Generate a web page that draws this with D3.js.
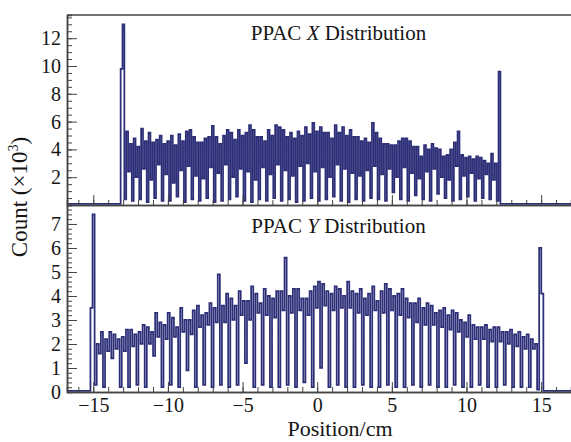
<!DOCTYPE html>
<html><head><meta charset="utf-8">
<script src="https://cdn.jsdelivr.net/npm/d3@7"></script>
<style>
body{margin:0;background:#fff}
svg{display:block}
text{font-family:"Liberation Serif","Times New Roman",serif;fill:#151515}
</style>
</head><body>
<svg id="chart" width="571" height="442"></svg>
<script>
// ---------------- data (counts in units of 10^3) ----------------
const xTickValues = [-15, -10, -5, 0, 5, 10, 15];
const topYTickValues = [2, 4, 6, 8, 10, 12];
const botYTickValues = [0, 1, 2, 3, 4, 5, 6, 7];
const panelNames = ["X", "Y"];

// PPAC X distribution: histogram bins (left edge spike, 50 wire periods of 4 bins, right edge spike)
const xBinStart = -13.167, xBinWidth = 0.1247, xBaseline = 0.08;
const xLeftSpike = [9.8, 13.0, 0.4];
const xPeakA = [5.3,4.8,5.5,5.2,4.7,4.4,5.0,5.1,5.3,4.9,
                4.5,4.9,4.9,5.0,5.2,5.4,5.2,5.4,4.9,5.4,
                5.75,5.4,5.2,5.3,5.6,5.9,5.6,5.2,5.75,5.6,
                5.4,4.9,4.8,5.9,4.8,4.4,4.3,4.8,4.6,4.2,
                4.3,4.4,4.0,3.6,4.5,3.6,3.5,3.5,3.2,3.7];
const xMid   = [2.4,2.0,2.6,1.8,2.9,2.2,1.6,2.5,2.8,2.1,
                1.9,2.7,2.3,2.9,2.0,2.6,2.4,1.8,2.7,2.2,
                2.9,2.5,2.1,2.8,3.0,2.4,2.7,2.0,2.9,2.6,
                2.3,2.1,2.5,2.8,2.2,2.6,2.0,2.7,2.3,1.9,
                2.4,2.6,2.0,1.8,2.8,2.1,2.3,1.9,2.2,1.8];
const xPeakB = [4.4,4.2,4.6,4.5,5.0,4.6,4.3,4.6,5.4,4.5,
                4.8,5.7,4.4,5.4,4.7,5.0,5.75,4.9,4.6,5.0,
                5.6,4.9,4.8,5.0,5.1,5.3,5.2,4.8,5.2,5.0,
                4.9,4.6,4.5,5.2,4.4,4.3,4.6,4.8,4.2,3.5,
                4.0,4.1,3.5,4.0,5.3,3.4,3.3,3.4,3.0,3.0];
const xLow   = [0.3,0.4,0.2,0.5,0.3,0.3,0.6,0.2,0.4,0.3,
                0.5,0.2,0.3,0.4,0.6,0.3,0.2,0.4,0.3,0.5,
                0.3,0.4,0.2,0.3,0.5,0.3,0.4,0.6,0.3,0.2,
                0.4,0.3,0.5,0.4,0.3,0.9,0.4,0.3,0.7,0.4,
                0.3,0.8,0.5,0.3,0.4,0.6,0.3,0.5,0.4,0.3];
const xRightSpike = [9.6];

// PPAC Y distribution: histogram bins (left spike, 53 wire periods of 4 bins, right spike)
const yBinStart = -15.19, yBinWidth = 0.13981, yBaseline = 0.05;
const yLeftSpike = [3.5, 7.4, 0.3];
const yTopA = [2.0,2.2,2.4,2.3,2.6,2.5,2.7,3.3,2.8,3.1,
               3.5,3.0,3.6,3.3,3.5,3.6,3.9,4.2,3.8,4.1,
               4.3,3.9,4.2,4.0,4.3,3.9,4.4,4.5,4.1,4.3,
               4.6,4.1,3.9,4.4,4.2,4.3,4.1,3.9,3.7,3.5,
               3.6,3.4,3.2,3.3,2.9,2.8,2.7,2.6,2.7,2.5,
               2.4,2.3,2.2];
const yBand = [1.6,1.7,1.8,1.7,1.9,2.0,2.0,2.3,2.2,2.3,
               2.5,2.4,2.7,2.8,2.9,2.9,3.0,3.2,3.0,3.3,
               3.2,3.1,3.4,3.3,3.4,3.2,3.5,3.6,3.4,3.5,
               3.5,3.3,3.2,3.4,3.3,3.4,3.2,3.1,2.9,2.8,
               2.8,2.7,2.6,2.5,2.3,2.2,2.2,2.1,2.1,2.0,
               1.9,1.8,1.8];
const yTopB = [2.5,2.5,2.2,2.6,2.4,2.8,2.5,2.9,3.3,2.7,
               3.0,3.4,3.2,3.7,4.9,4.1,3.6,3.8,4.4,3.7,
               4.0,4.2,5.6,4.3,3.9,4.2,4.6,4.2,4.4,4.0,
               4.2,4.3,4.1,3.8,4.5,4.0,4.3,3.7,3.9,3.7,
               3.3,3.5,3.4,3.0,3.2,2.7,2.8,2.7,2.5,2.6,
               2.5,2.4,2.0];
const yLow  = [0.2,1.4,0.2,0.2,0.3,0.2,1.5,0.2,0.3,0.2,
               0.9,0.2,0.3,0.2,0.3,0.2,0.3,1.2,0.2,0.3,
               0.2,0.2,0.3,0.2,0.4,0.2,1.0,0.2,0.3,0.2,
               0.2,0.3,0.2,0.2,0.3,0.2,0.2,0.3,0.2,0.3,
               0.2,0.2,0.3,0.2,0.2,0.3,0.2,0.2,0.3,0.2,
               0.2,0.2,0.1];
const yRightSpike = [6.0, 4.1];

// ---------------- build bin tables ----------------
function buildBins(left, a, m, b, l, right) {
  const counts = [...left];
  a.forEach((v, i) => counts.push(a[i], m[i], b[i], l[i]));
  return counts.concat(right);
}
const xCounts = buildBins(xLeftSpike, xPeakA, xMid, xPeakB, xLow, xRightSpike);
const yCounts = buildBins(yLeftSpike, yTopA, yBand, yTopB, yLow, yRightSpike);

// ---------------- layout ----------------
const svg = d3.select("#chart");
const L = 67, R = 571, T = 15, MID = 205, B = 392;
const lineColor = "#2c2e78", axisColor = "#444";

const x = d3.scaleLinear().domain([-16.76, 17.0]).range([L, R]);
const yTop = d3.scaleLinear().domain([0, 13.67]).range([MID, T]);
const yBot = d3.scaleLinear().domain([0, 7.79]).range([B, MID]);

const defs = svg.append("defs");
defs.append("clipPath").attr("id", "clipTop").append("rect")
  .attr("x", L).attr("y", T).attr("width", R - L).attr("height", MID - T);
defs.append("clipPath").attr("id", "clipBot").append("rect")
  .attr("x", L).attr("y", MID).attr("width", R - L).attr("height", B - MID);

function histPoints(counts, start, width, base, xs) {
  const d0 = xs.domain();
  const pts = [[d0[0], base], [start, base]];
  counts.forEach((c, i) => {
    pts.push([start + i * width, c]);
    pts.push([start + (i + 1) * width, c]);
  });
  const end = start + counts.length * width;
  pts.push([end, base], [d0[1], base]);
  return pts;
}

function drawHist(counts, start, width, base, ys, clip) {
  const line = d3.line().x(d => x(d[0])).y(d => ys(d[1]));
  svg.append("path")
    .datum(histPoints(counts, start, width, base, x))
    .attr("clip-path", `url(#${clip})`)
    .attr("fill", "none")
    .attr("stroke", lineColor)
    .attr("stroke-width", 1.75)
    .attr("stroke-linejoin", "miter")
    .attr("d", line);
}

drawHist(xCounts, xBinStart, xBinWidth, xBaseline, yTop, "clipTop");
drawHist(yCounts, yBinStart, yBinWidth, yBaseline, yBot, "clipBot");

// ---------------- axes ----------------
function styleAxis(g) {
  g.selectAll(".domain").attr("stroke", axisColor).attr("stroke-width", 1.5);
  g.selectAll(".tick line").attr("stroke", axisColor).attr("stroke-width", 1);
  g.selectAll("text").attr("font-family", '"Liberation Serif", serif')
    .attr("font-size", 20).attr("fill", "#151515");
}

function minor(step, lo, hi) {
  const out = [];
  for (let v = lo; v <= hi + 1e-9; v += step) out.push(+v.toFixed(4));
  return out;
}

// Top panel left axis
svg.append("g").attr("transform", `translate(${L},0)`)
  .call(d3.axisLeft(yTop).tickValues(minor(0.5, 0, 13.5)).tickSize(-5).tickFormat(""))
  .call(styleAxis);
svg.append("g").attr("transform", `translate(${L},0)`)
  .call(d3.axisLeft(yTop).tickValues(topYTickValues).tickSizeInner(-10).tickSizeOuter(0).tickPadding(6))
  .call(styleAxis);

// Bottom panel left axis
svg.append("g").attr("transform", `translate(${L},0)`)
  .call(d3.axisLeft(yBot).tickValues(minor(0.2, 0, 7.6)).tickSize(-5).tickFormat(""))
  .call(styleAxis);
svg.append("g").attr("transform", `translate(${L},0)`)
  .call(d3.axisLeft(yBot).tickValues(botYTickValues).tickSizeInner(-10).tickSizeOuter(0).tickPadding(6))
  .call(styleAxis);

// x axes
const xMinor = minor(1, -16, 17);
[MID, B].forEach((yy, k) => {
  svg.append("g").attr("transform", `translate(0,${yy})`)
    .call(d3.axisBottom(x).tickValues(xMinor).tickSize(-5).tickFormat(""))
    .call(styleAxis);
  const ax = d3.axisBottom(x).tickValues(xTickValues).tickSizeInner(-10).tickSizeOuter(0).tickPadding(6)
    .tickFormat(d => d < 0 ? "\u2212" + Math.abs(d) : String(d));
  if (k === 0) ax.tickFormat("");
  svg.append("g").attr("transform", `translate(0,${yy})`).call(ax).call(styleAxis);
});

// top frame
svg.append("line").attr("x1", L).attr("x2", R).attr("y1", T).attr("y2", T)
  .attr("stroke", axisColor).attr("stroke-width", 1.5);

// ---------------- labels ----------------
[[panelNames[0], 39.5], [panelNames[1], 232.5]].forEach(([nm, yy]) => {
  const t = svg.append("text").attr("x", 338.5).attr("y", yy)
    .attr("text-anchor", "middle").attr("font-size", 21);
  t.append("tspan").text("PPAC ");
  t.append("tspan").attr("font-style", "italic").text(nm);
  t.append("tspan").text(" Distribution");
});

svg.append("text").attr("x", 340).attr("y", 436).attr("text-anchor", "middle")
  .attr("font-size", 22).text("Position/cm");

const yl = svg.append("text").attr("transform", "translate(27,197) rotate(-90)")
  .attr("text-anchor", "middle").attr("font-size", 23);
yl.append("tspan").text("Count (\u00d710");
yl.append("tspan").attr("font-size", 14).attr("dy", -9).text("3");
yl.append("tspan").attr("dy", 9).text(")");
</script>
</body></html>
